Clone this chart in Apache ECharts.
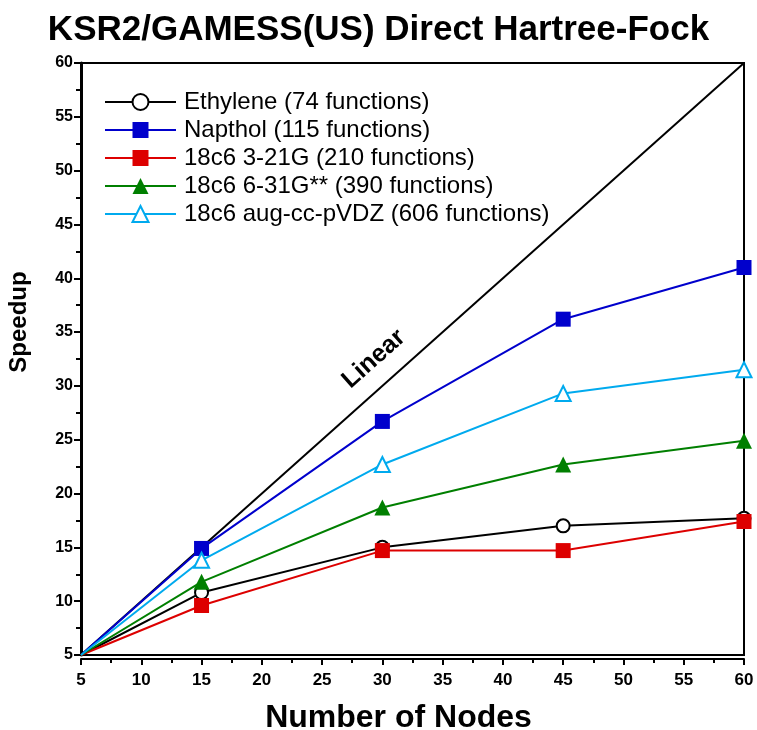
<!DOCTYPE html>
<html>
<head>
    <meta charset="utf-8" />
    <title>KSR2/GAMESS(US) Direct Hartree-Fock</title>
    <script src="https://cdn.jsdelivr.net/npm/echarts@6/dist/echarts.min.js"></script>
    <style>
        html, body { margin: 0; padding: 0; background: #fff; }
    </style>
</head>
<body>
    <div id="main" style="width: 757px;height:730px;"></div>

    <script type="text/javascript">
        // number of nodes
        var nodes = [5, 15, 30, 45, 60];

        // speedup per system
        var ethylene = [5, 10.8, 15.0, 17.0, 17.7];
        var napthol = [5, 14.9, 26.7, 36.2, 41.0];
        var sto321 = [5, 9.6, 14.7, 14.7, 17.4];
        var g631 = [5, 11.8, 18.7, 22.7, 24.9];
        var augcc = [5, 13.8, 22.7, 29.3, 31.5];
        var linear = [5, 60];

        var font = 'Liberation Sans, Arial, sans-serif';

        var myChart = echarts.init(document.getElementById('main'));

        // first point (5,5) has no marker
        function pts(ys) {
            return ys.map(function (y, i) {
                var p = { value: [nodes[i], y] };
                if (i === 0) p.symbol = 'none';
                return p;
            });
        }

        function lineSeries(name, ys, color, symbol, size, hollow) {
            return {
                name: name,
                type: 'line',
                data: pts(ys),
                symbol: symbol,
                symbolSize: size,
                showAllSymbol: true,
                lineStyle: { color: color, width: 2 },
                itemStyle: hollow
                    ? { color: '#fff', borderColor: color, borderWidth: 2 }
                    : { color: color, borderColor: color, borderWidth: 0 }
            };
        }

        var option = {
            animation: false,
            backgroundColor: '#fff',
            title: {
                text: 'KSR2/GAMESS(US) Direct Hartree-Fock',
                left: 'center',
                top: 8,
                textStyle: { fontFamily: font, fontWeight: 'bold', fontSize: 35, color: '#000' }
            },
            legend: {
                orient: 'vertical',
                left: 99,
                top: 85,
                itemWidth: 71,
                itemHeight: 20,
                itemGap: 4,
                textStyle: { fontFamily: font, fontSize: 24, lineHeight: 20, color: '#000', padding: [0, 0, 0, 3] },
                data: ['Ethylene (74 functions)', 'Napthol (115 functions)', '18c6 3-21G (210 functions)',
                       '18c6 6-31G** (390 functions)', '18c6 aug-cc-pVDZ (606 functions)']
            },
            grid: {
                left: 81, right: 13, top: 63, bottom: 75,
                outerBoundsMode: 'none',
                show: true, borderColor: '#000', borderWidth: 2
            },
            xAxis: {
                type: 'value',
                min: 5, max: 60, interval: 5,
                offset: 4,
                name: 'Number of Nodes',
                nameLocation: 'middle',
                nameGap: 43,
                nameTextStyle: { fontFamily: font, fontWeight: 'bold', fontSize: 32, color: '#000', padding: [0, 28, 0, 0] },
                axisLine: { onZero: false, lineStyle: { color: '#000', width: 2 } },
                axisTick: { length: 6, lineStyle: { color: '#000', width: 2 } },
                minorTick: { show: true, splitNumber: 2, length: 4, lineStyle: { color: '#000', width: 2 } },
                axisLabel: { fontFamily: font, fontWeight: 'bold', fontSize: 17, color: '#000', margin: 13 },
                splitLine: { show: false }
            },
            yAxis: {
                type: 'value',
                min: 5, max: 60, interval: 5,
                name: 'Speedup',
                nameLocation: 'middle',
                nameGap: 50,
                nameTextStyle: { fontFamily: font, fontWeight: 'bold', fontSize: 24, color: '#000', padding: [0, 0, 0, 74] },
                axisLine: { onZero: false, lineStyle: { color: '#000', width: 3 } },
                axisTick: { length: 7, lineStyle: { color: '#000', width: 2 } },
                minorTick: { show: true, splitNumber: 2, length: 5, lineStyle: { color: '#000', width: 2 } },
                axisLabel: { fontFamily: font, fontWeight: 'bold', fontSize: 16, color: '#000', margin: 8 },
                splitLine: { show: false }
            },
            series: [
                {
                    name: 'Linear',
                    type: 'line',
                    data: linear.map(function (v) { return [v, v]; }),
                    symbol: 'none',
                    lineStyle: { color: '#000', width: 2 },
                    silent: true
                },
                lineSeries('Ethylene (74 functions)', ethylene, '#000000', 'circle', 13, true),
                lineSeries('Napthol (115 functions)', napthol, '#0000cc', 'rect', 15, false),
                lineSeries('18c6 3-21G (210 functions)', sto321, '#dd0000', 'rect', 15, false),
                lineSeries('18c6 6-31G** (390 functions)', g631, '#007f00', 'triangle', 16, false),
                lineSeries('18c6 aug-cc-pVDZ (606 functions)', augcc, '#00aaee', 'triangle', 15, true)
            ]
        };

        myChart.setOption(option);

        // "Linear" label along the diagonal
        var p = myChart.convertToPixel({ gridIndex: 0 }, [29.3, 32.5]);
        var q0 = myChart.convertToPixel({ gridIndex: 0 }, [5, 5]);
        var q1 = myChart.convertToPixel({ gridIndex: 0 }, [60, 60]);
        var ang = Math.atan2(q0[1] - q1[1], q1[0] - q0[0]);
        myChart.setOption({
            graphic: [{
                type: 'text',
                x: p[0], y: p[1],
                rotation: ang,
                style: {
                    text: 'Linear',
                    fontFamily: font, fontWeight: 'bold', fontSize: 25, fill: '#000',
                    align: 'center', verticalAlign: 'middle'
                }
            }]
        });
    </script>
</body>
</html>
